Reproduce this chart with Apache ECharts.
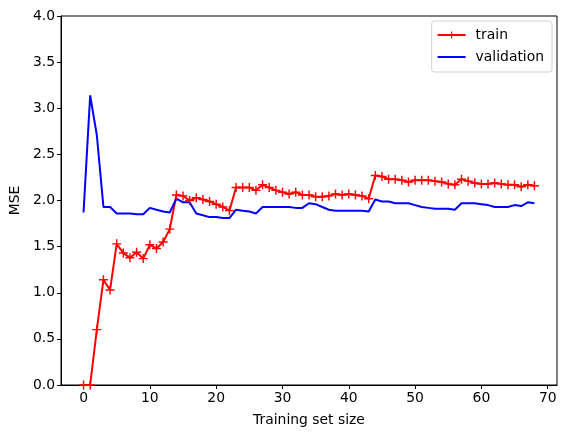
<!DOCTYPE html>
<html>
<head>
<meta charset="utf-8">
<script src="https://cdn.jsdelivr.net/npm/echarts@6/dist/echarts.min.js"></script>
<style>
  html, body { margin: 0; padding: 0; background: #fff; }
  #chart { width: 567px; height: 438px; }
</style>
</head>
<body>
<div id="chart"></div>
<script>
var sizes = [0,1,2,3,4,5,6,7,8,9,10,11,12,13,14,15,16,17,18,19,20,21,22,23,24,25,26,27,28,29,30,31,32,33,34,
             35,36,37,38,39,40,41,42,43,44,45,46,47,48,49,50,51,52,53,54,55,56,57,58,59,60,61,62,63,64,65,66,67,68];

var trainMse = [0.0,0.0,0.60,1.14,1.03,1.53,1.43,1.38,1.44,1.37,1.52,1.48,1.55,1.69,2.06,2.05,2.00,2.03,2.01,1.99,
                1.96,1.93,1.89,2.14,2.14,2.14,2.11,2.17,2.14,2.11,2.09,2.07,2.09,2.06,2.06,2.04,2.04,2.05,2.07,2.06,
                2.07,2.06,2.05,2.02,2.27,2.26,2.23,2.23,2.22,2.20,2.22,2.22,2.22,2.21,2.20,2.18,2.17,2.23,2.21,2.19,
                2.18,2.18,2.19,2.18,2.17,2.17,2.15,2.17,2.16];

var valMse = [1.87,3.14,2.71,1.93,1.93,1.86,1.86,1.86,1.85,1.85,1.92,1.90,1.88,1.87,2.02,1.98,1.98,1.86,1.84,1.82,
              1.82,1.81,1.81,1.90,1.89,1.88,1.86,1.93,1.93,1.93,1.93,1.93,1.92,1.92,1.97,1.96,1.93,1.90,1.89,1.89,
              1.89,1.89,1.89,1.88,2.01,1.99,1.99,1.97,1.97,1.97,1.95,1.93,1.92,1.91,1.91,1.91,1.90,1.97,1.97,1.97,
              1.96,1.95,1.93,1.93,1.93,1.95,1.94,1.98,1.97];

var xTicks = [0,10,20,30,40,50,60,70];

function pairs(ys) {
    var out = [];
    for (var i = 0; i < sizes.length; i++) out.push([sizes[i], ys[i]]);
    return out;
}

var plus = 'path://M4.2,0H5.8V4.2H10V5.8H5.8V10H4.2V5.8H0V4.2H4.2Z';
var font = 'DejaVu Sans';

echarts.init(document.getElementById('chart')).setOption({
    animation: false,
    textStyle: { fontFamily: font },
    grid: {
        left: 61,
        right: 10,
        top: 16,
        bottom: 53,
        show: true,
        borderColor: '#000',
        borderWidth: 1
    },
    legend: {
        orient: 'vertical',
        right: 15,
        top: 21,
        align: 'left',
        itemWidth: 28,
        itemHeight: 9,
        itemGap: 8,
        padding: [7, 8, 8, 5],
        borderColor: '#d0d0d0',
        borderWidth: 1,
        borderRadius: 3,
        backgroundColor: 'rgba(255,255,255,0.8)',
        textStyle: { fontFamily: font, fontSize: 13.9, color: '#000', padding: [0, 0, 0, 5] },
        data: [
            { name: 'train' },
            { name: 'validation', icon: 'path://M0,0H28V2H0Z' }
        ]
    },
    xAxis: {
        type: 'value',
        min: -3.4,
        max: 71.4,
        name: 'Training set size',
        nameLocation: 'middle',
        nameGap: 28,
        nameTextStyle: { fontFamily: font, fontSize: 13.9, color: '#000' },
        axisLine: { show: true, onZero: false, lineStyle: { color: '#000', width: 1 } },
        axisTick: { show: true, length: 4, lineStyle: { color: '#000' }, customValues: xTicks },
        axisLabel: { fontFamily: font, fontSize: 13.9, color: '#000', margin: 6, customValues: xTicks },
        splitLine: { show: false }
    },
    yAxis: {
        type: 'value',
        min: 0,
        max: 4,
        interval: 0.5,
        name: 'MSE',
        nameLocation: 'middle',
        nameRotate: 90,
        nameGap: 38,
        nameTextStyle: { fontFamily: font, fontSize: 13.9, color: '#000' },
        axisLine: { show: true, onZero: false, lineStyle: { color: '#000', width: 1 } },
        axisTick: { show: true, length: 4, lineStyle: { color: '#000' } },
        axisLabel: {
            fontFamily: font, fontSize: 13.9, color: '#000', margin: 6,
            formatter: function (v) { return v.toFixed(1); }
        },
        splitLine: { show: false }
    },
    series: [
        {
            name: 'train',
            type: 'line',
            data: pairs(trainMse),
            symbol: plus,
            symbolSize: 9,
            showAllSymbol: true,
            color: '#ff0000',
            itemStyle: { color: '#ff0000' },
            lineStyle: { color: '#ff0000', width: 2 }
        },
        {
            name: 'validation',
            type: 'line',
            data: pairs(valMse),
            symbol: 'none',
            color: '#0000ff',
            lineStyle: { color: '#0000ff', width: 2 }
        }
    ]
});
</script>
</body>
</html>
